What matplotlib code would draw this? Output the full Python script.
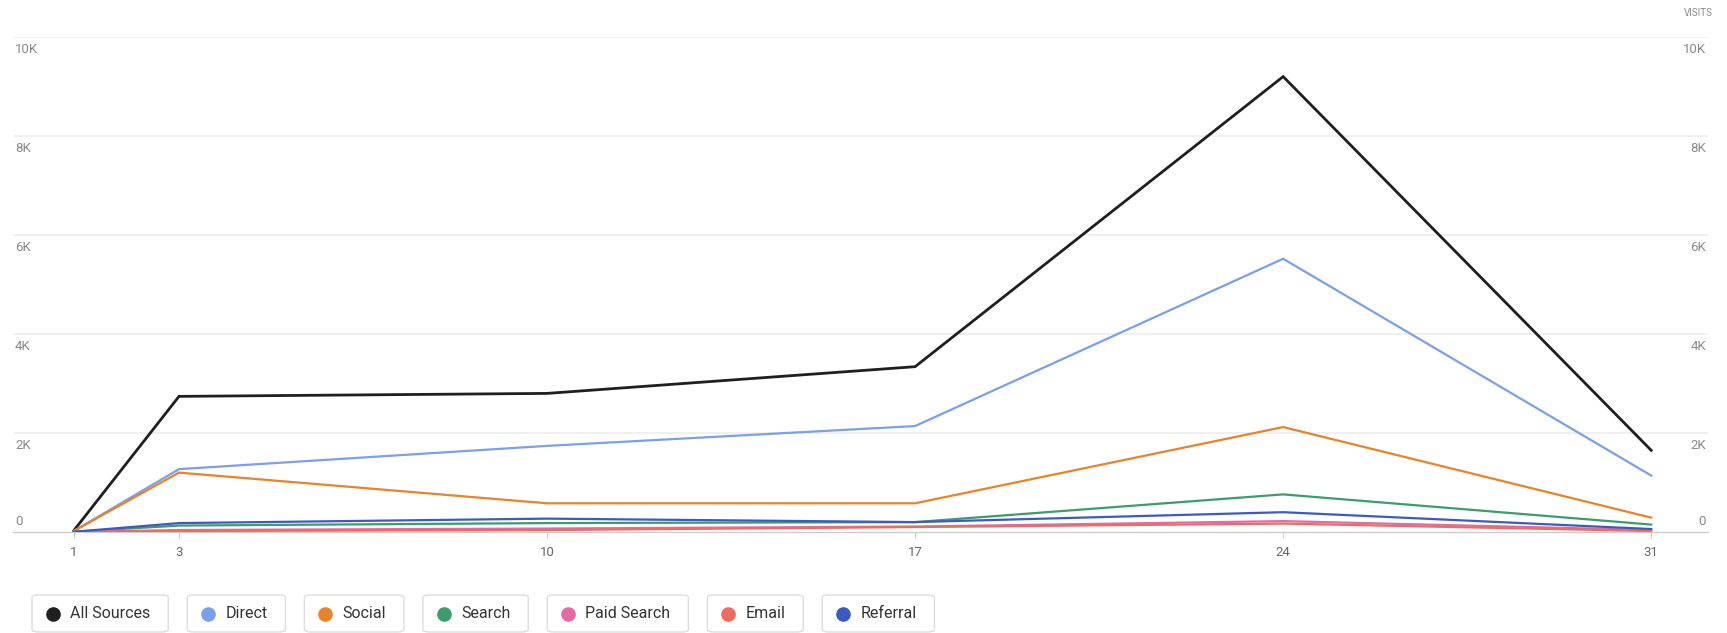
import matplotlib
matplotlib.use('Agg')
import matplotlib.pyplot as plt
from matplotlib.patches import FancyBboxPatch
import matplotlib.transforms as mtransforms

plt.rcParams['font.family'] = ['Roboto', 'DejaVu Sans']

# visits per source
days = [1, 3, 10, 17, 24, 31]
all_sources = [30, 2740, 2800, 3340, 9200, 1650]
direct = [20, 1270, 1740, 2140, 5520, 1140]
social = [20, 1200, 580, 580, 2120, 290]
search = [5, 130, 180, 200, 760, 150]
paid_search = [0, 40, 70, 110, 220, 40]
email = [0, 20, 40, 100, 170, 20]
referral = [5, 180, 270, 200, 400, 60]

labels = ['All Sources', 'Direct', 'Social', 'Search', 'Paid Search', 'Email', 'Referral']
series = [all_sources, direct, social, search, paid_search, email, referral]
colors = ['#1f1f1f', '#7b9fe8', '#e8832a', '#3d9c6c', '#e46aa3', '#ee6b5f', '#3b5bc0']
yticks = [0, 2000, 4000, 6000, 8000, 10000]
ytick_labels = ['0', '2K', '4K', '6K', '8K', '10K']

W, H = 1727, 633
fig = plt.figure(figsize=(W / 100, H / 100), dpi=100)
# axes span the full gridline width
ax = fig.add_axes([13 / W, 1 - 532 / H, (1708 - 13) / W, (532 - 37) / H])

for vals, c, lab in zip(series, colors, labels):
    lw = 2.0 if lab == 'All Sources' else 1.6
    ax.plot(days, vals, color=c, lw=lw, solid_joinstyle='miter', zorder=3)

ax.set_ylim(0, 10000)
ax.set_xlim(-0.157, 32.08)

for s in ['top', 'right', 'left']:
    ax.spines[s].set_visible(False)
ax.spines['bottom'].set_color('#cccccc')
ax.spines['bottom'].set_linewidth(1.0)

ax.set_yticks(yticks[1:])
ax.yaxis.grid(True, color='#eeeeee', lw=1.2)
ax.tick_params(axis='y', length=0, labelleft=False)
ax.set_xticks(days)
ax.set_xticklabels([str(d) for d in days])
ax.tick_params(axis='x', length=4, color='#cccccc', labelsize=9.5, labelcolor='#666666', pad=6)

# y labels sit under the gridlines on both sides, the 0 one above the baseline
trans = mtransforms.blended_transform_factory(fig.transFigure, ax.transData)
off = mtransforms.offset_copy(trans, fig=fig, y=-4, units='points')
off0 = mtransforms.offset_copy(trans, fig=fig, y=12, units='points')
for v, t in zip(yticks, ytick_labels):
    tr = off if v > 0 else off0
    ax.text(15 / W, v, t, transform=tr, ha='left', va='top', fontsize=9.5, color='#8a8a8a')
    ax.text(1706 / W, v, t, transform=tr, ha='right', va='top', fontsize=9.5, color='#8a8a8a')

fig.text(1713 / W, 1 - 13 / H, 'VISITS', ha='right', va='center', fontsize=7, color='#8a8a8a')

# legend chips
fig.canvas.draw()
r = fig.canvas.get_renderer()
x = 32
y0, y1 = 595, 632
for lab, c in zip(labels, colors):
    t = fig.text((x + 38) / W, 1 - (y0 + y1) / 2 / H, lab, ha='left', va='center',
                 fontsize=11.5, color='#333333')
    tw = t.get_window_extent(renderer=r).width
    bw = tw + 38 + 18
    box = FancyBboxPatch((x / W, 1 - y1 / H), bw / W, (y1 - y0) / H,
                         boxstyle='round,pad=0,rounding_size=0.004',
                         transform=fig.transFigure, facecolor='white',
                         edgecolor='#dddddd', lw=1.0)
    fig.patches.append(box)
    fig.lines.append(plt.Line2D([(x + 21) / W], [1 - (y0 + y1) / 2 / H], marker='o',
                                markersize=9.5, color=c, transform=fig.transFigure))
    x += bw + 19

fig.savefig('out.png', dpi=100)
